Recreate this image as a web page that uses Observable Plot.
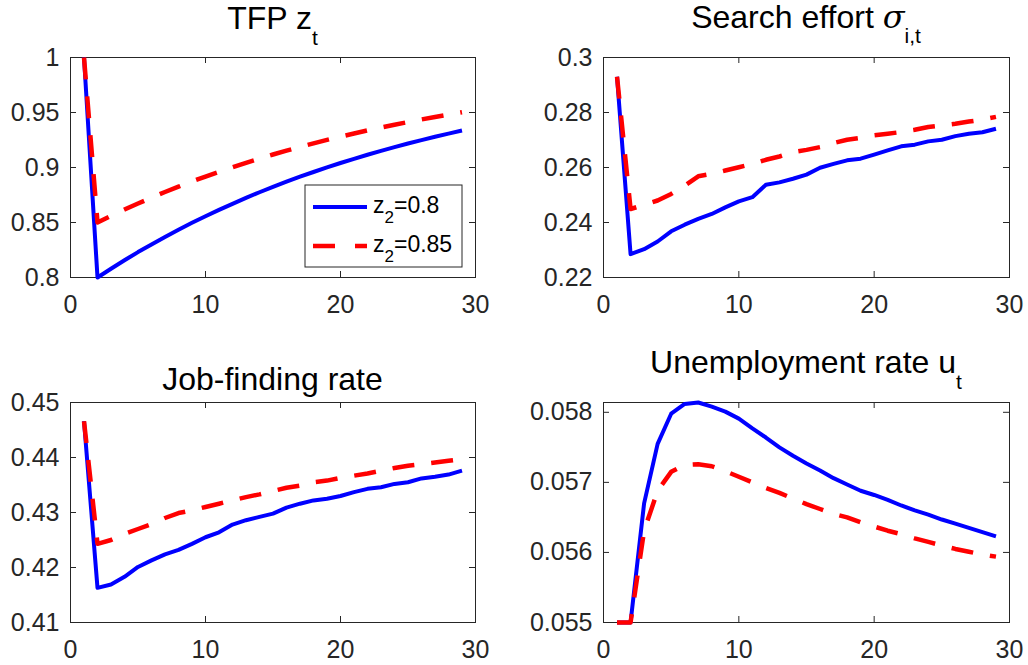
<!DOCTYPE html>
<html>
<head>
<meta charset="utf-8">
<script src="https://cdn.jsdelivr.net/npm/d3@7"></script>
<script src="https://cdn.jsdelivr.net/npm/@observablehq/plot@0.6"></script>
<style>
  body { margin: 0; background: #fff; }
  #fig { position: relative; width: 1028px; height: 665px; background: #fff; }
  #fig > div { position: absolute; }
</style>
</head>
<body>
<div id="fig"></div>
<script>
// Impulse responses to a TFP shock, two shock sizes (z_2 = 0.8 and z_2 = 0.85)
const periods = [1, 2, 3, 4, 5, 6, 7, 8, 9, 10, 11, 12, 13, 14, 15, 16, 17, 18, 19, 20, 21, 22, 23, 24, 25, 26, 27, 28, 29];

const tfpLow  = [1, 0.8, 0.808, 0.8157, 0.8231, 0.8301, 0.8369, 0.8434, 0.8497, 0.8557, 0.8615, 0.8670, 0.8724, 0.8775, 0.8824, 0.8871, 0.8916, 0.8959, 0.9001, 0.9041, 0.9079, 0.9116, 0.9151, 0.9185, 0.9218, 0.9249, 0.9279, 0.9308, 0.9336];
const tfpHigh = [1, 0.85, 0.856, 0.8618, 0.8673, 0.8726, 0.8777, 0.8826, 0.8873, 0.8918, 0.8961, 0.9003, 0.9043, 0.9081, 0.9118, 0.9153, 0.9187, 0.9219, 0.9251, 0.9281, 0.9309, 0.9337, 0.9364, 0.9389, 0.9413, 0.9437, 0.9459, 0.9481, 0.9502];

const effortLow  = [0.2930, 0.2285, 0.2303, 0.2331, 0.2368, 0.2392, 0.2413, 0.2431, 0.2455, 0.2477, 0.2492, 0.2537, 0.2546, 0.2559, 0.2574, 0.2599, 0.2613, 0.2626, 0.2632, 0.2647, 0.2662, 0.2677, 0.2683, 0.2695, 0.2701, 0.2714, 0.2723, 0.2728, 0.2741];
const effortHigh = [0.2930, 0.2449, 0.2464, 0.2480, 0.2504, 0.2534, 0.2568, 0.2577, 0.2589, 0.2601, 0.2613, 0.2628, 0.2640, 0.2656, 0.2664, 0.2674, 0.2689, 0.2701, 0.2708, 0.2717, 0.2723, 0.2729, 0.2737, 0.2747, 0.2753, 0.2759, 0.2767, 0.2774, 0.2784];

const jobLow  = [0.4466, 0.4163, 0.4169, 0.4183, 0.4201, 0.4213, 0.4224, 0.4232, 0.4243, 0.4255, 0.4264, 0.4278, 0.4286, 0.4292, 0.4298, 0.4309, 0.4316, 0.4322, 0.4325, 0.4330, 0.4337, 0.4343, 0.4346, 0.4352, 0.4355, 0.4362, 0.4365, 0.4369, 0.4376];
const jobHigh = [0.4466, 0.4243, 0.4250, 0.4261, 0.4270, 0.4279, 0.4290, 0.4299, 0.4304, 0.4310, 0.4316, 0.4322, 0.4328, 0.4333, 0.4339, 0.4345, 0.4349, 0.4355, 0.4358, 0.4363, 0.4367, 0.4371, 0.4376, 0.4381, 0.4385, 0.4388, 0.4391, 0.4394, 0.4397];

const unempLow  = [0.05500, 0.05500, 0.05670, 0.05755, 0.05798, 0.05812, 0.05814, 0.05808, 0.05801, 0.05791, 0.05777, 0.05764, 0.05750, 0.05738, 0.05727, 0.05717, 0.05706, 0.05697, 0.05688, 0.05682, 0.05675, 0.05667, 0.05660, 0.05654, 0.05647, 0.05641, 0.05635, 0.05629, 0.05623];
const unempHigh = [0.05500, 0.05500, 0.05631, 0.05688, 0.05715, 0.05725, 0.05726, 0.05723, 0.05716, 0.05708, 0.05700, 0.05692, 0.05685, 0.05677, 0.05669, 0.05662, 0.05655, 0.05650, 0.05643, 0.05637, 0.05631, 0.05626, 0.05620, 0.05615, 0.05610, 0.05605, 0.05601, 0.05597, 0.05594];

// Tick values
const xTicks      = [0, 10, 20, 30];
const tfpTicks    = [0.8, 0.85, 0.9, 0.95, 1];
const effortTicks = [0.22, 0.24, 0.26, 0.28, 0.3];
const jobTicks    = [0.41, 0.42, 0.43, 0.44, 0.45];
const unempTicks  = [0.055, 0.056, 0.057, 0.058];

const legendLabels = ["0.8", "0.85"];

const FONT = "'Liberation Sans', Arial, Helvetica, sans-serif";
const AXIS = "#262626";
const BLUE = "#0000ff";
const RED = "#ff0000";
const TICK_LEN = 6;

const fig = document.getElementById("fig");

function panel({left, top, width, height, margin, yDomain, yTicks, low, high, title, titleY}) {
  const [mt, mr, mb, ml] = margin;
  const innerW = width - ml - mr;
  const innerH = height - mt - mb;
  const svg = Plot.plot({
    width, height,
    marginTop: mt, marginRight: mr, marginBottom: mb, marginLeft: ml,
    x: {domain: [0, 30]},
    y: {domain: yDomain},
    style: {fontFamily: FONT, fontSize: "25px", color: AXIS, background: "#fff", overflow: "visible"},
    marks: [
      Plot.frame({stroke: AXIS, strokeWidth: 1}),
      // inward ticks on all four sides
      Plot.tickX(xTicks, {x: d => d, insetTop: innerH - TICK_LEN, stroke: AXIS}),
      Plot.tickX(xTicks, {x: d => d, insetBottom: innerH - TICK_LEN, stroke: AXIS}),
      Plot.tickY(yTicks, {y: d => d, insetRight: innerW - TICK_LEN, stroke: AXIS}),
      Plot.tickY(yTicks, {y: d => d, insetLeft: innerW - TICK_LEN, stroke: AXIS}),
      Plot.axisX({ticks: xTicks, tickSize: 0, tickPadding: 18, tickFormat: d => String(d), fontSize: 25}),
      Plot.axisY({ticks: yTicks, tickSize: 0, tickPadding: 11, tickFormat: d => String(d), fontSize: 25}),
      Plot.line(low, {x: periods, y: d => d, stroke: BLUE, strokeWidth: 4, strokeLinejoin: "round", strokeLinecap: "butt"}),
      Plot.line(high, {x: periods, y: d => d, stroke: RED, strokeWidth: 4.5, strokeDasharray: "22,17", strokeLinecap: "butt"})
    ]
  });

  // Title with TeX-style subscript
  const t = d3.select(svg).append("text")
    .attr("x", ml + innerW / 2)
    .attr("y", titleY)
    .attr("text-anchor", "middle")
    .attr("fill", "#000")
    .style("font-family", FONT)
    .style("font-size", "32px");
  title(t);

  const holder = document.createElement("div");
  holder.style.left = left + "px";
  holder.style.top = top + "px";
  holder.appendChild(svg);
  fig.appendChild(holder);
  return {svg, ml, mt, innerW, innerH};
}

const p1 = panel({
  left: 0, top: 0, width: 514, height: 330, margin: [57, 39, 53, 70],
  yDomain: [0.8, 1], yTicks: tfpTicks, low: tfpLow, high: tfpHigh, titleY: 29,
  title: t => { t.append("tspan").text("TFP z"); t.append("tspan").attr("font-size", "21px").attr("dy", 16).text("t"); }
});

panel({
  left: 514, top: 0, width: 514, height: 330, margin: [57, 19, 53, 89],
  yDomain: [0.22, 0.3], yTicks: effortTicks, low: effortLow, high: effortHigh, titleY: 28,
  title: t => {
    t.append("tspan").text("Search effort ");
    t.append("tspan").attr("font-style", "italic").attr("font-family", "'DejaVu Serif', 'Liberation Serif', serif").text("σ");
    t.append("tspan").attr("font-size", "21px").attr("dy", 15).text("i,t");
  }
});

panel({
  left: 0, top: 330, width: 514, height: 335, margin: [72, 39, 43, 70],
  yDomain: [0.41, 0.45], yTicks: jobTicks, low: jobLow, high: jobHigh, titleY: 60,
  title: t => { t.append("tspan").text("Job-finding rate"); }
});

panel({
  left: 514, top: 330, width: 514, height: 335, margin: [72, 19, 43, 89],
  yDomain: [0.055, d3.max(unempLow)], yTicks: unempTicks, low: unempLow, high: unempHigh, titleY: 43,
  title: t => { t.append("tspan").text("Unemployment rate u"); t.append("tspan").attr("font-size", "21px").attr("dy", 16).text("t"); }
});

// Legend (southeast corner of the TFP panel)
{
  const {svg, ml, mt, innerW, innerH} = p1;
  const boxW = 157, boxH = 82;
  const bx = ml + innerW - 13 - boxW;
  const by = mt + innerH - 10 - boxH;
  const g = d3.select(svg).append("g").attr("transform", `translate(${bx},${by})`);
  g.append("rect").attr("x", 0).attr("y", 0).attr("width", boxW).attr("height", boxH)
    .attr("fill", "#fff").attr("stroke", AXIS).attr("stroke-width", 1);
  const entries = [
    {label: legendLabels[0], color: BLUE, dash: null, w: 4, y: 22},
    {label: legendLabels[1], color: RED, dash: "22,20", w: 4.5, y: 61}
  ];
  for (const e of entries) {
    const ln = g.append("line").attr("x1", 8).attr("x2", 62).attr("y1", e.y).attr("y2", e.y)
      .attr("stroke", e.color).attr("stroke-width", e.w);
    if (e.dash) ln.attr("stroke-dasharray", e.dash);
    const tx = g.append("text").attr("x", 68).attr("y", e.y + 6)
      .attr("text-anchor", "start")
      .attr("fill", "#000").style("font-family", FONT).style("font-size", "23px");
    tx.append("tspan").text("z");
    tx.append("tspan").attr("font-size", "17px").attr("dy", 10).text("2");
    tx.append("tspan").attr("dy", -10).text("=" + e.label);
  }
}
</script>
</body>
</html>
